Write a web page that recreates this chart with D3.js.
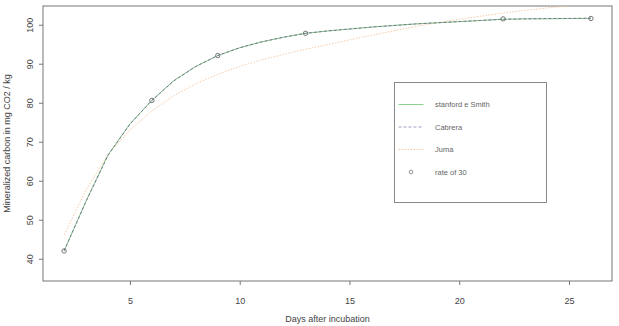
<!DOCTYPE html>
<html>
<head>
<meta charset="utf-8">
<script src="https://cdn.jsdelivr.net/npm/d3@7"></script>
<style>
  body { margin: 0; background: #fff; }
  text { font-family: "Liberation Sans", Arial, sans-serif; }
</style>
</head>
<body>
<svg id="chart"></svg>
<script>
// days of incubation used for the fitted curves
var days = [2, 3, 4, 5, 6, 7, 8, 9, 10, 11, 12, 13, 14, 15, 16, 17, 18, 19, 20, 21, 22, 23, 24, 25, 26];

// fitted curves
var stanford = [42.0, 54.8, 66.6, 74.6, 80.6, 85.7, 89.3, 92.1, 94.1, 95.6, 96.8, 97.8, 98.4, 98.9, 99.4, 99.8, 100.2, 100.5, 100.8, 101.1, 101.4, 101.5, 101.5, 101.6, 101.6];
var cabrera  = [42.0, 54.7, 66.5, 74.5, 80.6, 85.6, 89.3, 92.1, 94.1, 95.6, 96.8, 97.8, 98.4, 98.9, 99.4, 99.8, 100.2, 100.5, 100.8, 101.1, 101.4, 101.5, 101.6, 101.6, 101.7];
var juma     = [46.1, 57.6, 66.8, 73.0, 77.9, 81.8, 84.9, 87.3, 89.3, 91.0, 92.4, 93.7, 94.9, 96.1, 97.3, 98.4, 99.5, 100.5, 101.4, 102.2, 103.0, 103.7, 104.3, 104.8, 105.3];

// observed values (rate of 30)
var obsDays = [2, 6, 9, 13, 22, 26];
var obsVals = [42.0, 80.6, 92.1, 97.8, 101.5, 101.6];

var xTicks = [5, 10, 15, 20, 25];
var yTicks = [40, 50, 60, 70, 80, 90, 100];

var legendLabels = ["stanford e Smith", "Cabrera", "Juma", "rate of 30"];

var W = 619, H = 326;
var margin = {left: 43, right: 7, top: 6, bottom: 45};
var width = W - margin.left - margin.right,
    height = H - margin.top - margin.bottom;

var svg = d3.select("#chart").attr("width", W).attr("height", H);

var g = svg.append("g").attr("transform", "translate(" + margin.left + "," + margin.top + ")");

// R style 4% padding
var x = d3.scaleLinear().domain([1.04, 26.96]).range([0, width]);
var y = d3.scaleLinear().domain([34.3, 104.8]).range([height, 0]);

svg.append("defs").append("clipPath").attr("id", "clip")
  .append("rect").attr("width", width).attr("height", height);

// axes
var xAxis = g.append("g")
  .attr("transform", "translate(0," + height + ")")
  .call(d3.axisBottom(x).tickValues(xTicks).tickSizeOuter(0).tickSize(4).tickPadding(13));
var yAxis = g.append("g")
  .call(d3.axisLeft(y).tickValues(yTicks).tickSizeOuter(0).tickSize(4).tickPadding(0));

[xAxis, yAxis].forEach(function(a) {
  a.select(".domain").remove();
  a.selectAll("line").attr("stroke", "#777");
  a.selectAll("text").attr("font-size", "9px").style("fill", "#444")
    .style("font-family", "'Liberation Sans', Arial, sans-serif");
});

yAxis.selectAll(".tick text")
  .attr("x", 0).attr("dy", 0).attr("text-anchor", "middle")
  .attr("transform", "translate(-10,0) rotate(-90)");

// box
g.append("rect")
  .attr("width", width).attr("height", height)
  .attr("fill", "none").attr("stroke", "#777").attr("stroke-width", 1);

// axis titles
svg.append("text")
  .attr("x", margin.left + width / 2).attr("y", 322)
  .attr("text-anchor", "middle").attr("font-size", "9px")
  .style("fill", "#444")
  .text("Days after incubation");

svg.append("text")
  .attr("transform", "translate(10," + (margin.top + height / 2) + ") rotate(-90)")
  .attr("text-anchor", "middle").attr("font-size", "9px")
  .style("fill", "#444")
  .text("Mineralized carbon in mg CO2 / kg");

var line = d3.line()
  .x(function(d) { return x(d[0]); })
  .y(function(d) { return y(d[1]); });

var plot = g.append("g").attr("clip-path", "url(#clip)");

var series = [
  {vals: juma, color: "#f6c49a", dash: "1.5,1.5", w: 0.9},
  {vals: stanford, color: "#8cc98c", dash: null, w: 1},
  {vals: cabrera, color: "#6a7088", dash: "3,2", w: 0.9}
];

series.forEach(function(s) {
  plot.append("path")
    .datum(d3.zip(days, s.vals))
    .attr("d", line)
    .attr("fill", "none")
    .attr("stroke", s.color)
    .attr("stroke-width", s.w)
    .attr("stroke-dasharray", s.dash);
});

plot.selectAll(".pt")
  .data(d3.zip(obsDays, obsVals))
  .enter().append("circle")
    .attr("class", "pt")
    .attr("cx", function(d) { return x(d[0]); })
    .attr("cy", function(d) { return y(d[1]); })
    .attr("r", 2.2)
    .attr("fill", "none")
    .attr("stroke", "#666")
    .attr("stroke-width", 0.9);

// legend
var lg = svg.append("g").attr("transform", "translate(394.5,82.5)");
lg.append("rect").attr("width", 152).attr("height", 120)
  .attr("fill", "#fff").attr("stroke", "#888");

var legendStyles = [
  {color: "#8cd08c", dash: null},
  {color: "#9a9ec4", dash: "3,2"},
  {color: "#f6c49a", dash: "1.5,1.5"},
  {color: null}
];

legendLabels.forEach(function(lab, i) {
  var yy = 22 + i * 22.5;
  var st = legendStyles[i];
  if (st.color) {
    lg.append("line")
      .attr("x1", 4).attr("x2", 29).attr("y1", yy).attr("y2", yy)
      .attr("stroke", st.color).attr("stroke-width", 1)
      .attr("stroke-dasharray", st.dash);
  } else {
    lg.append("circle").attr("cx", 16.5).attr("cy", yy).attr("r", 1.8)
      .attr("fill", "none").attr("stroke", "#777").attr("stroke-width", 0.8);
  }
  lg.append("text")
    .attr("x", 40.5).attr("y", yy + 2.5)
    .attr("font-size", "7.5px").style("fill", "#666")
    .text(lab);
});
</script>
</body>
</html>
